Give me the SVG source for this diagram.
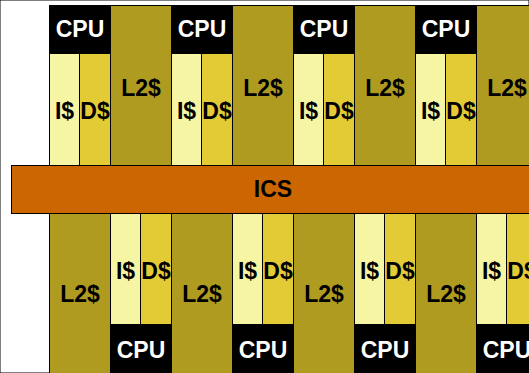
<svg xmlns="http://www.w3.org/2000/svg" width="529" height="373" viewBox="0 0 529 373">
<style>
rect{stroke:#000;stroke-width:1}
.cpu{fill:#000}
.i{fill:#F5F5A3}
.d{fill:#E2CB35}
.l2{fill:#AF9B1F}
.ics{fill:#CC6600}
text{font-family:"Liberation Sans",Arial,sans-serif;font-weight:bold;font-size:23px;text-anchor:middle}
.w{fill:#fff}
.k{fill:#000}
</style>
<rect width="529" height="373" fill="#fff" stroke="none"/>
<g id="top0">
<rect class="l2" x="110.5" y="5.5" width="61" height="160"/>
<rect class="cpu" x="49.5" y="5.5" width="61" height="48"/>
<rect class="i" x="49.5" y="53.5" width="30" height="112"/>
<rect class="d" x="79.5" y="53.5" width="31" height="112"/>
<text class="w" x="80" y="37">CPU</text>
<text class="k" x="141" y="96">L2$</text>
<text class="k" x="64.5" y="119">I$</text>
<text class="k" x="95" y="119">D$</text>
</g>
<g id="top1">
<rect class="l2" x="232.5" y="5.5" width="61" height="160"/>
<rect class="cpu" x="171.5" y="5.5" width="61" height="48"/>
<rect class="i" x="171.5" y="53.5" width="30" height="112"/>
<rect class="d" x="201.5" y="53.5" width="31" height="112"/>
<text class="w" x="202" y="37">CPU</text>
<text class="k" x="263" y="96">L2$</text>
<text class="k" x="186.5" y="119">I$</text>
<text class="k" x="217" y="119">D$</text>
</g>
<g id="top2">
<rect class="l2" x="354.5" y="5.5" width="61" height="160"/>
<rect class="cpu" x="293.5" y="5.5" width="61" height="48"/>
<rect class="i" x="293.5" y="53.5" width="30" height="112"/>
<rect class="d" x="323.5" y="53.5" width="31" height="112"/>
<text class="w" x="324" y="37">CPU</text>
<text class="k" x="385" y="96">L2$</text>
<text class="k" x="308.5" y="119">I$</text>
<text class="k" x="339" y="119">D$</text>
</g>
<g id="top3">
<rect class="l2" x="476.5" y="5.5" width="61" height="160"/>
<rect class="cpu" x="415.5" y="5.5" width="61" height="48"/>
<rect class="i" x="415.5" y="53.5" width="30" height="112"/>
<rect class="d" x="445.5" y="53.5" width="31" height="112"/>
<text class="w" x="446" y="37">CPU</text>
<text class="k" x="507" y="96">L2$</text>
<text class="k" x="430.5" y="119">I$</text>
<text class="k" x="461" y="119">D$</text>
</g>
<g id="bot0">
<rect class="l2" x="49.5" y="213.5" width="61" height="170"/>
<rect class="i" x="110.5" y="213.5" width="30" height="111"/>
<rect class="d" x="140.5" y="213.5" width="31" height="111"/>
<rect class="cpu" x="110.5" y="324.5" width="61" height="60"/>
<text class="k" x="80" y="302">L2$</text>
<text class="k" x="125.5" y="279">I$</text>
<text class="k" x="156" y="279">D$</text>
<text class="w" x="141" y="358">CPU</text>
</g>
<g id="bot1">
<rect class="l2" x="171.5" y="213.5" width="61" height="170"/>
<rect class="i" x="232.5" y="213.5" width="30" height="111"/>
<rect class="d" x="262.5" y="213.5" width="31" height="111"/>
<rect class="cpu" x="232.5" y="324.5" width="61" height="60"/>
<text class="k" x="202" y="302">L2$</text>
<text class="k" x="247.5" y="279">I$</text>
<text class="k" x="278" y="279">D$</text>
<text class="w" x="263" y="358">CPU</text>
</g>
<g id="bot2">
<rect class="l2" x="293.5" y="213.5" width="61" height="170"/>
<rect class="i" x="354.5" y="213.5" width="30" height="111"/>
<rect class="d" x="384.5" y="213.5" width="31" height="111"/>
<rect class="cpu" x="354.5" y="324.5" width="61" height="60"/>
<text class="k" x="324" y="302">L2$</text>
<text class="k" x="369.5" y="279">I$</text>
<text class="k" x="400" y="279">D$</text>
<text class="w" x="385" y="358">CPU</text>
</g>
<g id="bot3">
<rect class="l2" x="415.5" y="213.5" width="61" height="170"/>
<rect class="i" x="476.5" y="213.5" width="30" height="111"/>
<rect class="d" x="506.5" y="213.5" width="31" height="111"/>
<rect class="cpu" x="476.5" y="324.5" width="61" height="60"/>
<text class="k" x="446" y="302">L2$</text>
<text class="k" x="491.5" y="279">I$</text>
<text class="k" x="522" y="279">D$</text>
<text class="w" x="507" y="358">CPU</text>
</g>
<g id="ics">
<rect class="ics" x="11.5" y="165.5" width="523" height="48"/>
<text class="k" x="273" y="197">ICS</text>
</g>
</svg>
